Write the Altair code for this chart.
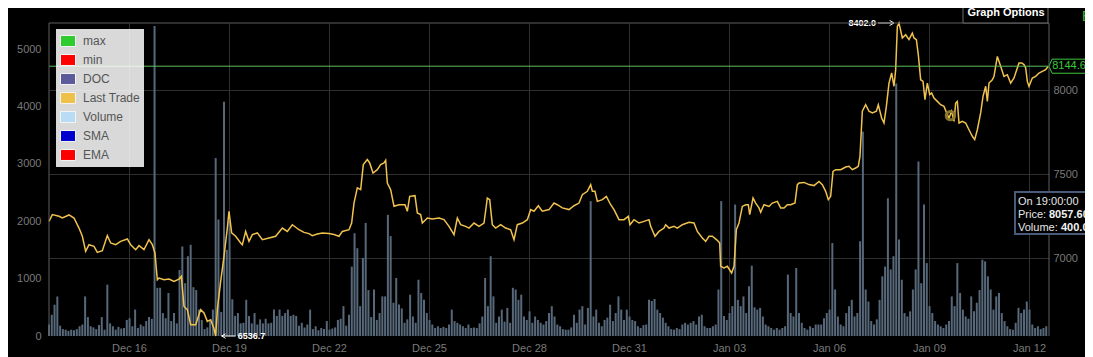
import altair as alt
import pandas as pd

# ---------------- data ----------------
BASE_TIME = "2019-12-13 14:24:00"          # left edge of the plot
END_TIME = "2020-01-12 14:24:00"           # right edge of the plot

# last-trade price: hours after BASE_TIME and price
price_hours = [
    0, 2.4, 7.2, 9.6, 14.4, 18, 21.6, 24, 26.4, 28.8, 32.4, 34.8, 38.4, 42, 44.4, 48, 51.6, 56.4, 58.8, 62.4,
    64.8, 68.4, 72, 74.4, 76.3, 78, 79.2, 82.8, 86.4, 90, 93.6, 95.3, 97.2, 99.6, 102, 105.6, 109.2, 111.6, 114,
    116.4, 118.8, 120, 121.2, 123.6, 126, 128.4, 129.6, 131.5, 134.4, 138, 139.2, 141.6, 144, 146.4, 150, 153.6,
    158.4, 163.2, 168, 171.6, 175.2,
    180, 183.6, 187.2, 189.6, 193.2, 196.8, 201.6, 205.2, 208.8, 211.2, 216, 217.9, 219.6, 222, 224.4, 226.3,
    229.2, 230.9, 233.3, 236.4, 238.8, 241.2, 242.4, 243.6, 246, 248.4, 252, 256.3, 258, 259.7, 263.5, 265.2,
    267.6, 268.8, 272.4, 276, 280.8, 284.4, 288, 291.6, 294, 296.4, 300, 302.4, 306, 309.6, 313.2, 315.6, 317.3,
    319.2, 321.6, 325.2, 328.8, 332.4, 334.8, 337.2, 340.8, 344.4, 346.8, 349.2, 352.3, 355.2,
    360, 363.6, 366, 369.6, 374.4, 378, 381.6, 384, 387.6, 390, 391.2, 393.1, 394.8, 398.4, 401.3, 404.4, 406.8,
    410.4, 414, 417.1, 418.3, 421.2, 424.8, 428.4, 432, 433.2, 436.3, 439.2, 442.8, 444, 446.4, 450, 452.4, 456,
    460.8, 464.4, 466.8, 470.4, 472.8, 475.2, 477.6, 481.2, 482.9, 483.6, 486, 488.4, 491.5, 493.2, 494.9, 496.8,
    499.2, 501.6, 503.5, 504.5, 506.9, 508.8, 511.2, 512.4, 514.8, 518.4, 520.8, 524.4, 526.8, 529.2, 531.6, 534,
    537.1, 538.8,
    540, 543.6, 547.2, 550.8, 554.4, 556.8, 559.2, 561.1, 562.8, 564.5, 566.4, 570, 573.6, 576, 578.4, 580.8,
    582.7, 583.9, 585.6, 588, 590.4, 592.8, 595.7, 597.1, 599.5, 601.2, 602.9, 604.8, 606.7, 608.4, 609.6, 610.8,
    612, 614.4, 616.8, 619.2, 621.6, 622.8, 624.5, 625.9, 627.6, 629.3, 630.7, 632.4, 634.1, 635.5, 637.2, 639.6,
    642, 644.4, 646.1, 648, 649.9, 651.6, 652.8, 654, 655.2, 657.6, 660, 662.4, 664.8, 666.5, 668.4, 670.8, 672.5,
    674.4, 675.6, 676.8, 679.2, 680.4, 682.8, 685.2, 687.6, 690, 692.4, 694.8, 698.4, 700.3, 702, 703.2, 704.4,
    705.6, 708, 710.4, 712.8, 715.2, 717.6, 719.5,
]
price_values = [
    7220, 7260, 7250, 7240, 7258, 7240, 7180, 7131, 7041, 7081, 7071, 7035, 7045, 7135, 7091, 7081, 7101, 7115,
    7081, 7051, 7075, 7051, 7111, 7081, 7031, 6872, 6882, 6872, 6876, 6862, 6876, 6892, 6713, 6694, 6604, 6604,
    6694, 6674, 6624, 6634, 6580, 6536.7, 6694, 6862, 7011, 7180, 7280, 7151, 7131, 7091, 7081, 7160, 7101, 7141,
    7151, 7111, 7121, 7131, 7180, 7160, 7200,
    7170, 7154, 7147, 7135, 7145, 7151, 7147, 7141, 7131, 7160, 7170, 7210, 7329, 7419, 7409, 7558, 7588, 7568,
    7508, 7528, 7558, 7568, 7584, 7448, 7409, 7310, 7319, 7319, 7280, 7369, 7373, 7270, 7260, 7210, 7240, 7234,
    7240, 7230, 7190, 7141, 7240, 7200, 7190, 7180, 7210, 7190, 7210, 7359, 7349, 7200, 7180, 7200, 7180, 7170,
    7111, 7200, 7210, 7230, 7290, 7280, 7313, 7280,
    7290, 7329, 7319, 7300, 7290, 7313, 7329, 7379, 7399, 7439, 7399, 7399, 7339, 7349, 7369, 7319, 7290, 7230,
    7230, 7250, 7200, 7230, 7210, 7220, 7230, 7190, 7131, 7160, 7180, 7200, 7180, 7190, 7180, 7200, 7214, 7210,
    7160, 7121, 7101, 7131, 7131, 7107, 7091, 6952, 6942, 6952, 6912, 6952, 7170, 7210, 7309, 7319, 7319, 7260,
    7359, 7329, 7300, 7274, 7319, 7309, 7329, 7339, 7300, 7300, 7319, 7319, 7329, 7439,
    7448, 7452, 7439, 7433, 7458, 7439, 7399, 7349, 7369, 7518, 7528, 7528, 7544, 7548, 7528, 7538, 7548, 7607,
    7876, 7915, 7876, 7866, 7876, 7915, 7836, 7806, 7905, 8044, 8104, 8025, 8124, 8382, 8402.0, 8313, 8332, 8303,
    8342, 8313, 8303, 8213, 8064, 8054, 7945, 8044, 7975, 7985, 7955, 7935, 7915, 7905, 7870, 7836, 7876, 7816,
    7925, 7935, 7806, 7816, 7806, 7766, 7727, 7707, 7766, 7866, 7965, 8025, 7935, 8044, 8064, 8084, 8203, 8144,
    8084, 8094, 8044, 8074, 8164, 8164, 8154, 8134, 8054, 8025, 8074, 8084, 8104, 8114, 8124, 8144.6,
]

# traded volume, one bar every 2 hours from BASE_TIME
volume_part1 = [
    200, 370, 545, 690, 180, 120, 110, 90, 110, 100, 120, 170, 200, 690, 330, 170, 150, 120, 190, 330,
    110, 895, 220, 170, 110, 160, 130, 140, 280, 310, 170, 460, 140, 200, 170, 260, 330, 300, 5400, 840,
    840, 400, 310, 750, 260, 400, 220, 1150, 1560, 920, 1390, 1590, 850, 800, 460, 280, 120, 150, 260, 460,
    3100, 2030, 420, 4080, 1500, 2000, 640, 350, 400, 220, 230, 630, 350, 220, 400, 200, 290, 220, 300, 220,
    230, 460, 350, 460, 350, 400, 460, 350, 370, 350,
]
volume_part2 = [
    180, 230, 150, 200, 460, 120, 170, 100, 140, 120, 260, 110, 130, 150, 280, 300, 520, 180, 370, 1210,
    1790, 1530, 520, 1360, 1970, 800, 330, 810, 280, 400, 690, 690, 2110, 1740, 580, 1010, 550, 480, 230, 290,
    720, 340, 230, 980, 750, 630, 400, 280, 200, 140, 170, 140, 160, 140, 200, 460, 260, 230, 200, 170,
    140, 200, 140, 150, 140, 220, 340, 1010, 520, 1390, 690, 230, 340, 460, 250, 490, 230, 840, 810, 630,
    720, 340, 280, 430, 230, 340, 280, 230, 200, 260,
]
volume_part3 = [
    400, 520, 340, 200, 170, 120, 110, 110, 150, 370, 230, 460, 520, 200, 490, 2350, 340, 460, 230, 170,
    280, 320, 545, 260, 400, 690, 460, 280, 460, 340, 280, 260, 170, 140, 190, 200, 630, 610, 645, 460,
    400, 320, 230, 170, 120, 110, 140, 120, 200, 230, 200, 230, 260, 200, 340, 370, 170, 140, 140, 170,
    200, 810, 2350, 350, 280, 400, 520, 2290, 630, 520, 690, 400, 865, 1225, 500, 460, 490, 340, 200, 170,
    140, 110, 140, 110, 140, 170, 1070, 400, 340, 1185,
]
volume_part4 = [
    400, 230, 140, 110, 170, 140, 200, 200, 200, 310, 400, 460, 1620, 810, 340, 200, 170, 400, 520, 630,
    340, 400, 1650, 3560, 810, 600, 260, 200, 290, 630, 1040, 1210, 2400, 1160, 1390, 4400, 1680, 980, 400, 340,
    430, 810, 1160, 3040, 920, 2290, 1270, 520, 400, 260, 200, 170, 140, 200, 260, 690, 520, 1270, 750, 460,
    340, 300, 690, 430, 580, 800, 1330, 1300, 1040, 810, 460, 690, 750, 400, 260, 170, 120, 110, 230, 490,
    400, 460, 600, 460, 200, 140, 170, 120, 140, 170,
]
VOLUME_STEP_HOURS = 2

x_tick_dates = ["2019-12-16", "2019-12-19", "2019-12-22", "2019-12-25", "2019-12-28",
                "2019-12-31", "2020-01-03", "2020-01-06", "2020-01-09", "2020-01-12"]
volume_ticks = [0, 1000, 2000, 3000, 4000, 5000]
price_ticks = [7000, 7500, 8000]
volume_domain = [0, 5453]
price_domain = [6536.7, 8402.0]

legend_names = ["max", "min", "DOC", "Last Trade", "Volume", "SMA", "EMA"]
legend_colors = ["#2ecc2e", "#ff0000", "#5b5b9b", "#eec14a", "#b7dcf4", "#0000cc", "#ff0000"]

hover_hours = [649]
hover_prices = [7850]

tooltip_time = "On 19:00:00"
tooltip_price = "8057.601"
tooltip_volume = "400.03"

# ---------------- page geometry (page pixels, 8px body margin) ----------------
SVG_W, SVG_H = 1077, 349


def svg_x(px):
    return px - 8


def svg_y(py):
    return py - 8


PAD_L, PAD_T = svg_x(49), svg_y(23)
W = svg_x(1049) - PAD_L
H = svg_y(336) - PAD_T
PAD_R = SVG_W - PAD_L - W
PAD_B = SVG_H - PAD_T - H


def rx(px):
    return svg_x(px) - PAD_L


def ry(py):
    return svg_y(py) - PAD_T


# ---------------- styling ----------------
FONT = "Liberation Sans"
GRID = "#2f2f2f"
LABEL = "#7a7a7a"
BORDER = "#5f5f5f"
BAR = "#56687a"
LINE = "#f0c24e"
GREEN = "#5cbf5c"
TAG_GREEN = "#3cc83c"

base = pd.Timestamp(BASE_TIME)
end = pd.Timestamp(END_TIME)


def dt(ts):
    return alt.DateTime(year=ts.year, month=ts.month, date=ts.day,
                        hours=ts.hour, minutes=ts.minute)


price_df = pd.DataFrame({
    "time": base + pd.to_timedelta(price_hours, unit="h"),
    "price": price_values,
})
volume_values = volume_part1 + volume_part2 + volume_part3 + volume_part4
vol_df = pd.DataFrame({
    "time": base + pd.to_timedelta([VOLUME_STEP_HOURS * i for i in range(len(volume_values))], unit="h"),
    "volume": volume_values,
})

x_enc = alt.X(
    "time:T",
    scale=alt.Scale(domain=[dt(base), dt(end)], padding=0),
    axis=alt.Axis(values=[dt(pd.Timestamp(d)) for d in x_tick_dates], format="%b %d",
                  grid=True, gridColor=GRID, domain=False, ticks=False, labelPadding=6,
                  labelColor=LABEL, labelFontSize=11, labelFont=FONT, title=None,
                  labelFlush=False, labelOverlap=False),
)
y_vol = alt.Y(
    "volume:Q",
    scale=alt.Scale(domain=volume_domain, nice=False),
    axis=alt.Axis(orient="left", values=volume_ticks, grid=False, domain=False, ticks=False, format="d",
                  labelPadding=8, labelColor=LABEL, labelFontSize=11, labelFont=FONT, title=None),
)
y_price = alt.Y(
    "price:Q",
    scale=alt.Scale(domain=price_domain, nice=False, zero=False),
    axis=alt.Axis(orient="right", values=price_ticks, grid=True, gridColor=GRID, domain=False,
                  ticks=False, labelPadding=4, labelColor=LABEL, labelFontSize=11, labelFont=FONT,
                  title=None, format="d"),
)

# ---------------- volume group (left axis) ----------------
bars = alt.Chart(vol_df).mark_bar(width=2, color=BAR).encode(x=x_enc, y=y_vol)

legend_df = pd.DataFrame({"series": legend_names})
legend_layer = alt.Chart(legend_df).mark_point(filled=True, opacity=0).encode(
    color=alt.Color(
        "series:N",
        scale=alt.Scale(domain=legend_names, range=legend_colors),
        legend=alt.Legend(
            orient="none", legendX=rx(56), legendY=ry(29), title=None,
            fillColor="rgba(255,255,255,0.85)", padding=4, rowPadding=3,
            symbolType="M-1,-0.73H1V0.73H-1Z", symbolSize=225,
            symbolStrokeColor="#f4f4f4", symbolStrokeWidth=1, symbolOpacity=1,
            labelFontSize=12, labelColor="#555555", labelFont=FONT, labelOffset=7,
        ),
    )
)
volume_group = alt.layer(bars, legend_layer)

# ---------------- price group (right axis) ----------------
line = alt.Chart(price_df).mark_line(color=LINE, strokeWidth=1.5).encode(x=x_enc, y=y_price)

last_df = pd.DataFrame({"price": [price_values[-1]], "label": [f"{price_values[-1]:.1f}"]})
last_rule = alt.Chart(last_df).mark_rule(color=GREEN, strokeWidth=1).encode(y=y_price)
last_tag = alt.Chart(last_df).mark_point(
    shape="M-1,0L-0.84,-0.37H1V0.37H-0.84Z", size=38 ** 2, filled=True,
    fill="#000000", stroke=TAG_GREEN, strokeWidth=1, opacity=1,
).encode(x=alt.value(rx(1068)), y=y_price)
last_text = alt.Chart(last_df).mark_text(
    color=TAG_GREEN, fontSize=11, font=FONT, align="center", baseline="middle"
).encode(x=alt.value(rx(1069)), y=y_price, text="label:N")

imax = max(range(len(price_values)), key=lambda i: price_values[i])
imin = min(range(len(price_values)), key=lambda i: price_values[i])
max_df = price_df.iloc[[imax]].assign(label=f"{price_values[imax]:.1f}")
min_df = price_df.iloc[[imin]].assign(label=f"{price_values[imin]:.1f}")

max_text = alt.Chart(max_df).mark_text(
    align="right", baseline="middle", dx=-23, fontSize=9, fontWeight="bold", color="white", font=FONT
).encode(x=x_enc, y=y_price, text="label:N")
max_arrow = alt.Chart(max_df).mark_point(
    shape="M-1,0L1,0M0.45,-0.32L1,0L0.45,0.32", size=16 ** 2, filled=False, color="white",
    strokeWidth=1, xOffset=-13, opacity=1,
).encode(x=x_enc, y=y_price)
min_text = alt.Chart(min_df).mark_text(
    align="left", baseline="middle", dx=22, fontSize=9, fontWeight="bold", color="white", font=FONT
).encode(x=x_enc, y=y_price, text="label:N")
min_arrow = alt.Chart(min_df).mark_point(
    shape="M1,0L-1,0M-0.45,-0.32L-1,0L-0.45,0.32", size=14 ** 2, filled=False, color="white",
    strokeWidth=1, xOffset=13, opacity=1,
).encode(x=x_enc, y=y_price)

hover_df = pd.DataFrame({"time": base + pd.to_timedelta(hover_hours, unit="h"), "price": hover_prices})
hover_ring = alt.Chart(hover_df).mark_point(
    filled=False, size=70, strokeWidth=3, color="#8c7a2e", opacity=0.95
).encode(x=x_enc, y=y_price)

price_group = alt.layer(line, last_rule, last_tag, last_text, max_text, max_arrow,
                        min_text, min_arrow, hover_ring)

# ---------------- page decorations ----------------
one = pd.DataFrame({"k": [0]})


def text_at(txt, px, py, size, color, weight="normal", align="left"):
    return alt.Chart(one).mark_text(
        text=txt, color=color, fontSize=size, font=FONT, fontWeight=weight,
        align=align, baseline="middle",
    ).encode(x=alt.value(rx(px)), y=alt.value(ry(py)))


def rect_at(x0, x1, y0, y1, **style):
    return alt.Chart(one).mark_rect(**style).encode(
        x=alt.value(rx(x0)), x2=alt.value(rx(x1)), y=alt.value(ry(y0)), y2=alt.value(ry(y1)))


deco = [
    # plot frame (top, left, right)
    alt.Chart(one).mark_rule(color=BORDER).encode(x=alt.value(0), x2=alt.value(W), y=alt.value(0)),
    alt.Chart(one).mark_rule(color=BORDER).encode(x=alt.value(0), y=alt.value(0), y2=alt.value(H)),
    alt.Chart(one).mark_rule(color=BORDER).encode(x=alt.value(W), y=alt.value(0), y2=alt.value(H)),
    # Graph Options button
    rect_at(963, 1048, 3, 23, fill="#000000", stroke="#6e6e6e", strokeWidth=1),
    text_at("Graph Options", 1006, 13, 11, "white", weight="bold", align="center"),
    text_at("Book", 1082, 17, 14, "#33c433"),
    # hover tooltip
    rect_at(1015, 1100, 192, 234, fill="#000000", stroke="#4a5a7a", strokeWidth=2),
    text_at(tooltip_time, 1018, 202, 11, "#e6e6e6"),
    text_at("Price:", 1018, 215, 11, "#e6e6e6"),
    text_at(tooltip_price, 1049, 215, 11, "#f2f2f2", weight="bold"),
    text_at("Volume:", 1018, 228, 11, "#e6e6e6"),
    text_at(tooltip_volume, 1061, 228, 11, "#f2f2f2", weight="bold"),
]
deco_group = alt.layer(*deco)

chart = (
    alt.layer(volume_group, price_group, deco_group)
    .resolve_scale(y="independent")
    .properties(
        width=W, height=H,
        padding={"left": PAD_L, "top": PAD_T, "right": PAD_R, "bottom": PAD_B},
        autosize=alt.AutoSizeParams(type="none"),
    )
    .configure(background="#000000", font=FONT)
    .configure_view(strokeWidth=0)
)

chart.save("out.html", embed_options={"renderer": "svg", "actions": False})
